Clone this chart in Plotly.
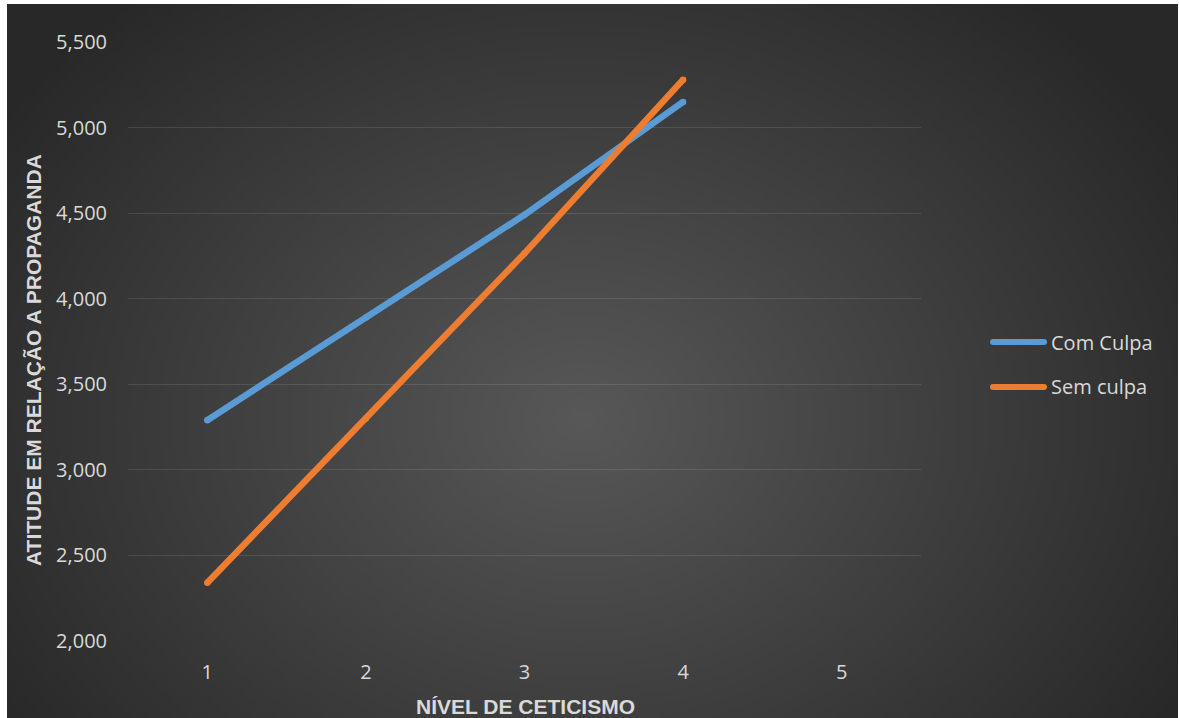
import base64, struct, zlib
import numpy as np
import plotly.graph_objects as go

# ---------------- data ----------------
categories = [1, 2, 3, 4, 5]
com_culpa = [3290, 3890, 4490, 5150, None]
sem_culpa = [2340, 3300, 4265, 5280, None]
y_ticks = [2000, 2500, 3000, 3500, 4000, 4500, 5000, 5500]
series_names = ["Com Culpa", "Sem culpa"]
colors = ["#5B9BD5", "#ED7D31"]

W, H = 1179, 718
L, R, T, B = 128, 258, 42, 77
PW, PH = W - L - R, H - T - B


def fx(px):
    return (px - L) / PW


def fy(py):
    return (H - B - py) / PH


# ---------------- radial gradient background as PNG ----------------
def make_png(arr):
    h, w = arr.shape
    raw = b"".join(b"\x00" + arr[i].tobytes() for i in range(h))

    def chunk(tag, data):
        c = struct.pack(">I", len(data)) + tag + data
        return c + struct.pack(">I", zlib.crc32(tag + data) & 0xFFFFFFFF)

    ihdr = struct.pack(">IIBBBBB", w, h, 8, 0, 0, 0, 0)
    return (b"\x89PNG\r\n\x1a\n" + chunk(b"IHDR", ihdr)
            + chunk(b"IDAT", zlib.compress(raw, 9)) + chunk(b"IEND", b""))


bx0, by0, bx1, by1 = 7, 4, 1178, 718
s = 3
gw, gh = (bx1 - bx0) // s, (by1 - by0) // s
xs = bx0 + (np.arange(gw) + 0.5) * s
ys = by0 + (np.arange(gh) + 0.5) * s
X, Y = np.meshgrid(xs, ys)
cx, cy, rx, ry = 580, 420, 700, 560
d = np.clip(np.sqrt(((X - cx) / rx) ** 2 + ((Y - cy) / ry) ** 2), 0, 1)
val = 0x58 - (0x58 - 0x28) * d
img = np.clip(val, 0, 255).astype(np.uint8)
src = "data:image/png;base64," + base64.b64encode(make_png(img)).decode()

fig = go.Figure()

for name, vals, col in zip(series_names, [com_culpa, sem_culpa], colors):
    fig.add_trace(go.Scatter(
        x=categories, y=vals, name=name, mode="lines+markers",
        line=dict(color=col, width=6.5),
        marker=dict(color=col, size=6.5, line=dict(width=0)),
        showlegend=False, hoverinfo="x+y+name",
    ))

fig.add_layout_image(dict(
    source=src, xref="paper", yref="paper",
    x=fx(bx0), y=fy(by0), sizex=(bx1 - bx0) / PW, sizey=(by1 - by0) / PH,
    xanchor="left", yanchor="top", sizing="stretch", layer="below",
))

tick_font = dict(family="Open Sans", size=20, color="#D9D9D9")
legend_font = dict(family="Open Sans", size=20, color="#D9D9D9")
title_font = dict(family="Liberation Sans, Arial", size=21, color="#D9D9D9")

# manual legend (long line symbols like the original)
shapes = []
annotations = []
leg_y = [342, 387]
for name, col, ly in zip(series_names, colors, leg_y):
    shapes.append(dict(type="line", xref="paper", yref="paper",
                       x0=fx(993), x1=fx(1044), y0=fy(ly), y1=fy(ly),
                       line=dict(color=col, width=6)))
    for ex in (993, 1044):
        shapes.append(dict(type="circle", xref="paper", yref="paper",
                           x0=fx(ex - 3), x1=fx(ex + 3), y0=fy(ly + 3), y1=fy(ly - 3),
                           fillcolor=col, line=dict(width=0)))
    annotations.append(dict(text=name, xref="paper", yref="paper",
                            x=fx(1049), y=fy(ly), xanchor="left", yanchor="middle",
                            showarrow=False, font=legend_font))

annotations.append(dict(text="<b>NÍVEL DE CETICISMO</b>", xref="paper", yref="paper",
                        x=fx(525), y=fy(706), xanchor="center", yanchor="middle",
                        showarrow=False, font=title_font))
annotations.append(dict(text="<b>ATITUDE EM RELAÇÃO A PROPAGANDA</b>", xref="paper", yref="paper",
                        x=fx(33), y=fy(360), xanchor="center", yanchor="middle",
                        textangle=-90, showarrow=False, font=title_font))

fig.update_layout(
    width=W, height=H,
    margin=dict(l=L, r=R, t=T, b=B, pad=0),
    paper_bgcolor="white",
    plot_bgcolor="rgba(0,0,0,0)",
    showlegend=False,
    shapes=shapes,
    annotations=annotations,
    xaxis=dict(range=[0.5, 5.5], tickvals=categories, ticktext=[str(c) for c in categories],
               showgrid=False, zeroline=False, showline=False, ticks="",
               tickfont=tick_font, ticklabelstandoff=17),
    yaxis=dict(range=[2000, 5500], tickvals=y_ticks, tickformat=",d",
               showgrid=True, gridcolor="rgba(255,255,255,0.11)", gridwidth=1.3,
               zeroline=False, showline=False, ticks="",
               tickfont=tick_font, ticklabelstandoff=20),
    separators=".,",
)

fig.write_html("out.html")
